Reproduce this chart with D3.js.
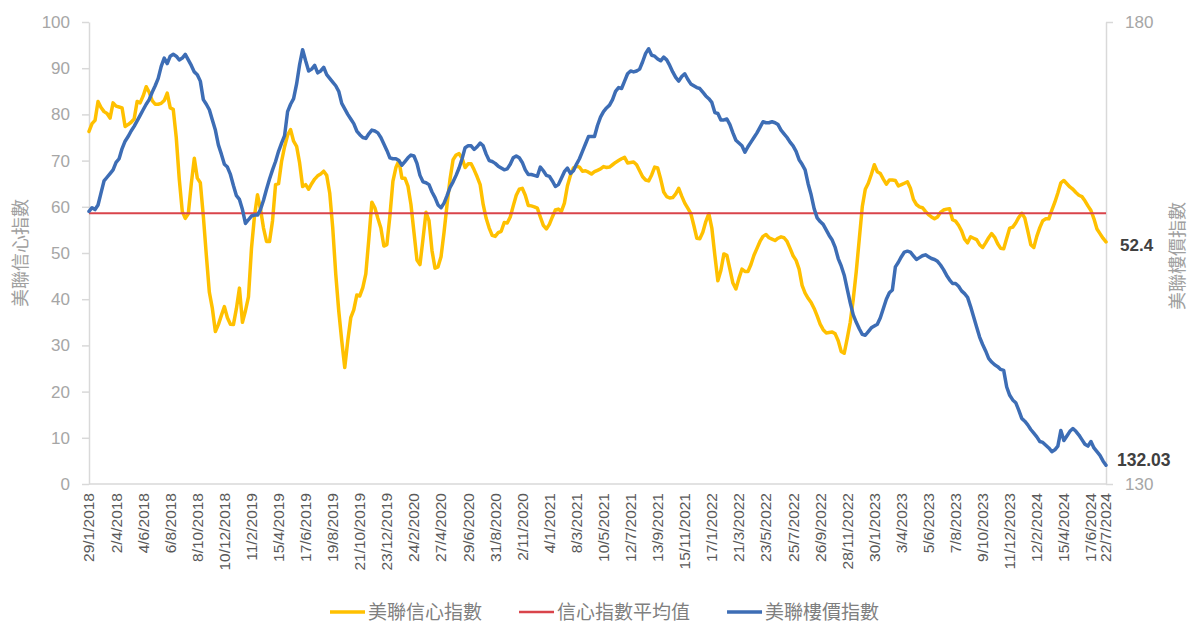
<!DOCTYPE html>
<html>
<head>
<meta charset="utf-8">
<script src="https://cdn.jsdelivr.net/npm/d3@7"></script>
<style>
  html, body { margin: 0; padding: 0; background: #fff; }
  svg { display: block; }
</style>
</head>
<body>
<svg id="chart" width="1200" height="640"></svg>
<script>
// ---------------- DATA ----------------
const startDate = "29/1/2018";   // first weekly observation
const weekCount = 339;            // weekly points up to 22/7/2024

const confidence = [
76.3,78.0,78.7,82.8,81.5,80.6,80.2,79.2,82.5,81.8,
81.6,81.4,77.4,77.8,78.3,79.0,82.8,82.5,84.0,86.0,
84.8,83.0,82.2,82.2,82.4,83.0,84.6,81.4,81.1,75.0,
66.0,59.0,57.5,58.5,65.0,70.5,66.2,65.2,58.0,49.5,
41.5,38.0,33.0,34.5,36.5,38.4,36.0,34.6,34.5,38.0,
42.4,35.0,37.5,40.5,51.0,58.0,62.6,59.5,55.4,52.5,
52.5,57.0,64.8,65.0,69.8,73.0,75.5,76.7,74.2,73.1,
69.5,64.4,64.8,63.8,65.0,66.0,66.7,67.1,67.7,66.8,
63.0,55.5,45.5,37.5,31.0,25.2,31.0,36.0,37.7,40.9,
40.7,42.5,45.5,53.0,61.0,59.8,57.5,55.4,51.5,51.8,
58.0,65.5,68.5,70.0,66.2,66.2,64.5,60.5,54.5,48.5,
47.5,53.0,58.8,57.0,50.5,46.7,47.0,49.2,54.5,60.5,
66.0,70.2,71.2,71.5,70.5,68.5,69.3,69.3,68.0,66.5,
64.8,60.5,57.5,55.4,53.8,53.6,54.4,54.7,56.6,56.5,
57.8,60.2,62.5,63.8,64.0,62.5,60.3,60.2,60.0,59.7,
57.8,56.0,55.2,56.2,57.8,59.3,59.5,59.0,60.8,64.5,
66.8,68.4,68.8,68.6,67.7,67.8,67.5,67.1,67.6,67.9,
68.2,68.7,68.5,68.6,69.1,69.6,70.0,70.4,70.7,69.5,
69.6,69.7,69.1,67.8,66.5,65.8,65.6,66.9,68.6,68.4,
66.0,63.2,62.2,61.9,62.0,62.8,64.0,62.3,60.8,59.7,
58.6,56.0,53.2,53.1,54.5,56.8,58.5,55.4,49.5,44.0,
46.2,49.8,49.5,46.5,43.5,42.2,44.5,46.5,46.0,46.0,
47.5,49.5,51.0,52.5,53.6,54.0,53.3,53.0,52.7,53.2,
53.5,53.3,52.5,51.0,49.4,48.4,46.5,43.0,41.3,40.2,
39.3,38.0,36.4,34.6,33.4,32.7,32.8,32.9,32.5,31.0,
28.7,28.3,31.5,35.0,40.0,46.0,53.0,60.0,63.8,65.1,
67.0,69.1,67.6,67.2,66.0,64.9,65.8,65.8,65.7,64.5,
64.8,65.1,65.4,64.0,61.6,60.5,60.0,59.8,59.0,58.3,
57.8,57.4,57.8,58.8,59.3,59.5,59.6,57.2,56.9,56.0,
54.8,53.0,52.2,53.5,53.2,52.9,51.8,51.2,52.2,53.3,
54.2,53.4,52.0,51.0,50.9,53.2,55.4,55.6,56.5,57.7,
58.6,57.6,54.8,51.8,51.2,53.6,55.5,57.0,57.4,57.4,
59.3,61.0,63.0,65.2,65.7,65.0,64.3,63.8,63.1,62.5,
62.2,61.3,60.2,59.2,57.4,55.2,54.2,53.2,52.4
];

const housePrice = [
159.5,159.9,159.7,160.2,161.5,162.8,163.2,163.6,164.0,164.8,
165.2,166.3,167.1,167.6,168.2,168.7,169.3,169.9,170.5,171.1,
171.6,172.4,173.1,173.9,175.2,176.1,175.5,176.3,176.5,176.3,
175.9,176.1,176.5,175.9,175.3,174.6,174.3,173.6,171.6,171.1,
170.5,169.4,168.3,166.7,165.7,164.6,164.3,163.5,162.3,161.2,
160.8,159.7,158.2,158.6,159.0,159.1,159.1,159.7,160.7,161.9,
163.0,164.0,164.9,166.0,166.9,167.7,170.3,171.1,171.7,173.3,
175.4,177.0,175.8,174.7,174.9,175.3,174.5,174.7,175.1,174.3,
173.9,173.5,173.1,172.5,171.2,170.6,170.0,169.5,169.0,168.2,
167.8,167.5,167.4,167.9,168.3,168.2,168.0,167.5,166.8,166.1,
165.3,165.2,165.2,165.0,164.5,164.9,165.3,165.6,165.5,164.7,
163.4,162.7,162.6,162.4,161.6,161.0,160.2,159.9,160.4,161.2,
162.1,162.7,163.4,164.2,165.2,166.4,166.6,166.6,166.2,166.5,
166.9,166.6,165.7,165.0,164.9,164.7,164.4,164.2,164.0,164.1,
164.6,165.3,165.5,165.3,164.8,164.0,163.5,163.5,163.4,163.3,
164.3,163.9,163.4,163.3,162.8,162.2,162.4,163.1,163.8,164.2,
163.6,163.9,164.6,165.2,166.0,166.8,167.6,167.6,167.6,168.8,
169.7,170.3,170.7,171.0,171.6,172.5,172.9,172.8,173.6,174.4,
174.7,174.6,174.7,174.9,175.7,176.6,177.1,176.4,176.3,176.0,
175.8,176.2,175.9,175.3,174.6,174.0,173.6,174.1,174.4,173.8,
173.3,173.1,172.9,172.8,172.4,172.0,171.7,171.3,170.2,170.1,
169.4,169.4,169.5,168.9,168.0,167.2,166.9,166.6,165.9,166.5,
167.0,167.5,168.0,168.6,169.2,169.1,169.1,169.2,169.1,168.9,
168.3,167.9,167.5,167.0,166.6,166.0,165.1,164.6,164.0,162.5,
161.3,159.8,158.8,158.4,158.1,157.5,156.9,156.4,155.6,154.4,
153.6,152.6,151.1,149.6,148.3,147.5,146.8,146.2,146.1,146.5,
146.9,147.1,147.3,148.0,149.0,150.0,150.7,151.0,153.5,154.0,
154.6,155.1,155.2,155.1,154.7,154.3,154.5,154.7,154.8,154.6,
154.4,154.3,154.1,153.7,153.2,152.6,152.1,151.7,151.7,151.4,
150.9,150.6,150.2,149.2,148.1,147.0,145.9,145.1,144.4,143.6,
143.2,142.9,142.7,142.4,142.3,140.5,139.6,139.1,138.8,138.0,
137.1,136.8,136.4,135.9,135.5,135.1,134.6,134.5,134.2,133.9,
133.5,133.7,134.1,135.8,134.7,135.2,135.7,136.0,135.7,135.3,
134.8,134.3,134.1,134.6,133.9,133.5,133.1,132.5,132.03
];

const confidenceAverage = 58.6;

const xTickLabels = [
"29/1/2018","2/4/2018","4/6/2018","6/8/2018","8/10/2018","10/12/2018",
"11/2/2019","15/4/2019","17/6/2019","19/8/2019","21/10/2019","23/12/2019",
"24/2/2020","27/4/2020","29/6/2020","31/8/2020","2/11/2020","4/1/2021",
"8/3/2021","10/5/2021","12/7/2021","13/9/2021","15/11/2021","17/1/2022",
"21/3/2022","23/5/2022","25/7/2022","26/9/2022","28/11/2022","30/1/2023",
"3/4/2023","5/6/2023","7/8/2023","9/10/2023","11/12/2023","12/2/2024",
"15/4/2024","17/6/2024","22/7/2024"
];
const leftTicks = [0,10,20,30,40,50,60,70,80,90,100];
const rightTicks = [130,180];

const seriesNames = ["美聯信心指數", "信心指數平均值", "美聯樓價指數"];
const leftTitle = "美聯信心指數";
const rightTitle = "美聯樓價指數";

// ---------------- CHART ----------------
const parse = d3.utcParse("%d/%m/%Y");
const d0 = parse(startDate);
const dates = d3.range(weekCount).map(i => d3.utcDay.offset(d0, 7 * i));

const svg = d3.select("#chart");
const L = 89, R = 1106, T = 22, B = 484;
const numFont = "'Liberation Sans', Arial, sans-serif";
const cjkFont = "'Noto Sans CJK TC', 'Noto Sans CJK SC', sans-serif";
const COL_Y = "#0000", COL_CONF = "#FFC000", COL_AVG = "#D9444B", COL_HOUSE = "#3D6DB5";

const x = d3.scaleUtc().domain([dates[0], dates[dates.length - 1]]).range([L, R]);
const yL = d3.scaleLinear().domain([0, 100]).range([B, T]);
const yR = d3.scaleLinear().domain([130, 180]).range([B, T]);

// axes
const axL = svg.append("g").attr("transform", `translate(${L},0)`)
  .call(d3.axisLeft(yL).tickValues(leftTicks).tickSize(7).tickSizeOuter(0).tickPadding(12));
const axR = svg.append("g").attr("transform", `translate(${R},0)`)
  .call(d3.axisRight(yR).tickValues(rightTicks).tickSize(7).tickSizeOuter(0).tickPadding(12));
[axL, axR].forEach(g => {
  g.select(".domain").attr("stroke", "#d9d9d9").attr("stroke-width", 1.5);
  g.selectAll(".tick line").attr("stroke", "#d9d9d9").attr("stroke-width", 1.5);
  g.selectAll(".tick text").attr("fill", "#a6a6a6").style("font-family", numFont).style("font-size", "17px");
});

// x axis line
svg.append("line").attr("x1", L).attr("x2", R).attr("y1", B).attr("y2", B)
  .attr("stroke", "#d9d9d9").attr("stroke-width", 1.5);

// x tick labels
svg.append("g").selectAll("text").data(xTickLabels).join("text")
  .attr("transform", d => `translate(${x(parse(d))},493) rotate(-90)`)
  .attr("text-anchor", "end").attr("dy", "0.35em")
  .attr("fill", "#595959").style("font-family", numFont).style("font-size", "15.5px")
  .text(d => d);

// axis titles
svg.append("text").attr("transform", "translate(21,253) rotate(-90)")
  .attr("text-anchor", "middle").attr("dy", "0.35em")
  .attr("fill", "#a0a0a0").style("font-family", cjkFont).style("font-size", "18px")
  .text(leftTitle);
svg.append("text").attr("transform", "translate(1178,256) rotate(-90)")
  .attr("text-anchor", "middle").attr("dy", "0.35em")
  .attr("fill", "#a0a0a0").style("font-family", cjkFont).style("font-size", "18px")
  .text(rightTitle);

// lines
const lineL = d3.line().x((d, i) => x(dates[i])).y(d => yL(d));
const lineR = d3.line().x((d, i) => x(dates[i])).y(d => yR(d));

svg.append("path").datum(confidence).attr("d", lineL)
  .attr("fill", "none").attr("stroke", COL_CONF).attr("stroke-width", 3.5)
  .attr("stroke-linejoin", "round").attr("stroke-linecap", "round");

svg.append("line")
  .attr("x1", x(dates[0])).attr("x2", x(dates[dates.length - 1]))
  .attr("y1", yL(confidenceAverage)).attr("y2", yL(confidenceAverage))
  .attr("stroke", COL_AVG).attr("stroke-width", 2);

svg.append("path").datum(housePrice).attr("d", lineR)
  .attr("fill", "none").attr("stroke", COL_HOUSE).attr("stroke-width", 3.5)
  .attr("stroke-linejoin", "round").attr("stroke-linecap", "round");

// end value labels
const lastC = confidence[confidence.length - 1];
const lastH = housePrice[housePrice.length - 1];
svg.append("text").attr("x", R + 14).attr("y", yL(lastC) + 3).attr("dy", "0.35em")
  .attr("fill", "#404040").style("font-family", numFont).style("font-size", "17px").style("font-weight", "bold")
  .text(lastC.toFixed(1));
svg.append("text").attr("x", R + 11).attr("y", yR(lastH) - 5).attr("dy", "0.35em")
  .attr("fill", "#404040").style("font-family", numFont).style("font-size", "17.5px").style("font-weight", "bold")
  .text(lastH.toFixed(2));

// legend
const legendColors = [COL_CONF, COL_AVG, COL_HOUSE];
const leg = svg.append("g");
let lx = 330;
const ly = 612;
seriesNames.forEach((name, i) => {
  leg.append("line").attr("x1", lx).attr("x2", lx + 35).attr("y1", ly).attr("y2", ly)
    .attr("stroke", legendColors[i]).attr("stroke-width", i === 1 ? 2.5 : 3.5);
  const t = leg.append("text").attr("x", lx + 38).attr("y", ly).attr("dy", "0.35em")
    .attr("fill", "#7f7f7f").style("font-family", cjkFont).style("font-size", "19px").text(name);
  lx += 38 + t.node().getComputedTextLength() + 37;
});
</script>
</body>
</html>
